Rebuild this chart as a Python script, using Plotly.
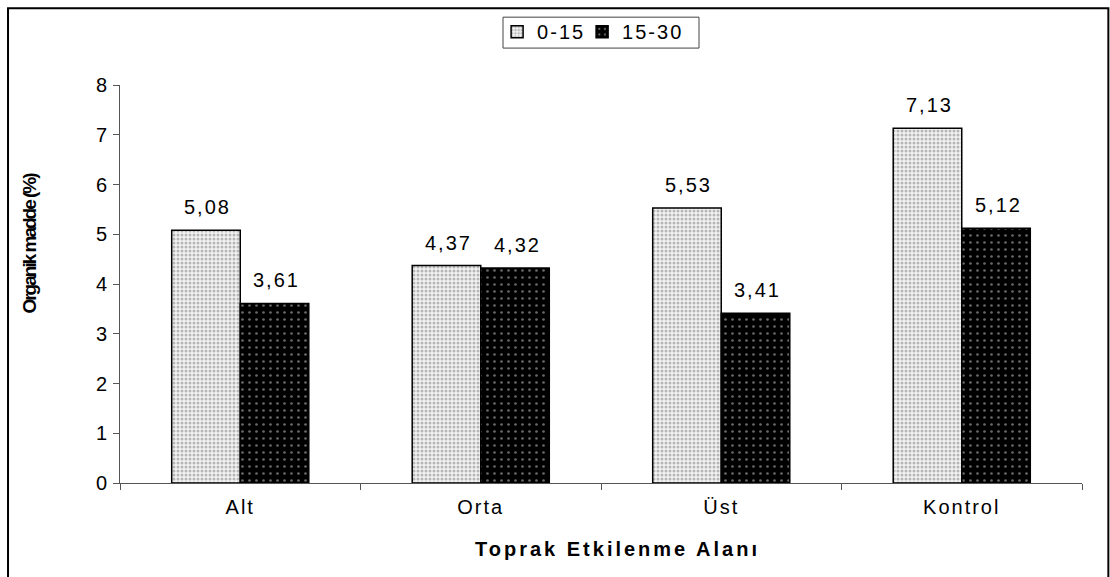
import plotly.graph_objects as go

categories = ["Alt", "Orta", "Üst", "Kontrol"]
depth_0_15 = [5.08, 4.37, 5.53, 7.13]
depth_15_30 = [3.61, 4.32, 3.41, 5.12]
y_ticks = [0, 1, 2, 3, 4, 5, 6, 7, 8]


def fmt(v):
    return f"{v:.2f}".replace(".", ",")


FONT = "Liberation Sans, Arial, sans-serif"

fig = go.Figure()
fig.add_trace(go.Bar(
    name="0-15", x=categories, y=depth_0_15,
    marker=dict(
        color="#e6e6e6",
        line=dict(color="black", width=1.5),
        pattern=dict(shape=".", bgcolor="#f2f2f2", fgcolor="#7a7a7a",
                     size=4, solidity=0.45),
    ),
))
fig.add_trace(go.Bar(
    name="15-30", x=categories, y=depth_15_30,
    marker=dict(
        color="black",
        line=dict(color="black", width=1.5),
        pattern=dict(shape=".", bgcolor="#000000", fgcolor="#d0d0d0",
                     size=7, solidity=0.12),
    ),
))

# value labels above each bar
for i, cat in enumerate(categories):
    for series, off in ((depth_0_15, -0.1425), (depth_15_30, 0.1425)):
        fig.add_annotation(
            x=i + off, y=series[i], text=fmt(series[i]),
            xref="x", yref="y", showarrow=False, yanchor="bottom",
            yshift=10, xshift=2, font=dict(family=FONT, size=20, color="black"),
        )

# axis titles
fig.add_annotation(
    text="<b>Toprak Etkilenme Alanı</b>", xref="paper", yref="paper",
    x=0.517, y=-0.165, xanchor="center", yanchor="middle", showarrow=False,
    font=dict(family=FONT, size=20, color="black"), name="xtitle",
)
fig.add_annotation(
    text="<b>Organik madde (%)</b>", xref="paper", yref="paper",
    x=-0.0936, y=0.6015, xanchor="center", yanchor="middle", showarrow=False,
    textangle=-90, font=dict(family=FONT, size=19, color="black"), name="ytitle",
)

# outer frame around the chart
fig.add_shape(type="rect", xref="paper", yref="paper",
              x0=-0.1164, x1=1.0274, y0=-0.4, y1=1.193,
              line=dict(color="black", width=2), fillcolor="rgba(0,0,0,0)")
# legend frame
fig.add_shape(type="rect", xref="paper", yref="paper", layer="above",
              x0=(503 - 120) / 962, x1=(699 - 120) / 962,
              y0=(484 - 48) / 399, y1=(484 - 17) / 399,
              line=dict(color="#444444", width=1), fillcolor="rgba(0,0,0,0)")

fig.update_layout(
    width=1110, height=577,
    margin=dict(l=120, r=28, t=85, b=94),
    paper_bgcolor="white", plot_bgcolor="white",
    barmode="group", bargap=0.43, bargroupgap=0,
    font=dict(family=FONT, size=20, color="black"),
    showlegend=True,
    legend=dict(
        orientation="h", x=0.392, xanchor="left", y=1.183, yanchor="top",
        borderwidth=0, bgcolor="rgba(0,0,0,0)",
        font=dict(family=FONT, size=20), itemwidth=30, entrywidth=40,
        traceorder="normal",
    ),
    xaxis=dict(
        type="category", showline=True, linecolor="#555555", linewidth=1,
        ticks="outside", tickson="boundaries", ticklen=6, tickcolor="#555555",
        tickfont=dict(family=FONT, size=20), ticklabelstandoff=6,
        showgrid=False,
    ),
    yaxis=dict(
        range=[0, 8], tickvals=y_ticks, showline=True, linecolor="#555555",
        linewidth=1, ticks="outside", ticklen=6, tickcolor="#555555",
        tickfont=dict(family=FONT, size=20), showgrid=False, zeroline=False,
    ),
)

# spaced-out lettering for labels, tight lettering for the y title,
# and no clipping of the wider legend entries
style_js = (
    "var s=document.createElement('style');"
    "s.textContent='.xtick text,.ytick text,.annotation-text,.legendtext"
    "{letter-spacing:2px}"
    ".annotation[data-index=\"8\"] .annotation-text{letter-spacing:3px}"
    ".annotation[data-index=\"9\"] .annotation-text{letter-spacing:-2px}"
    ".legend .scrollbox,.legend g{clip-path:none !important}';"
    "document.head.appendChild(s);"
)

fig.write_html("out.html", post_script=style_js)
